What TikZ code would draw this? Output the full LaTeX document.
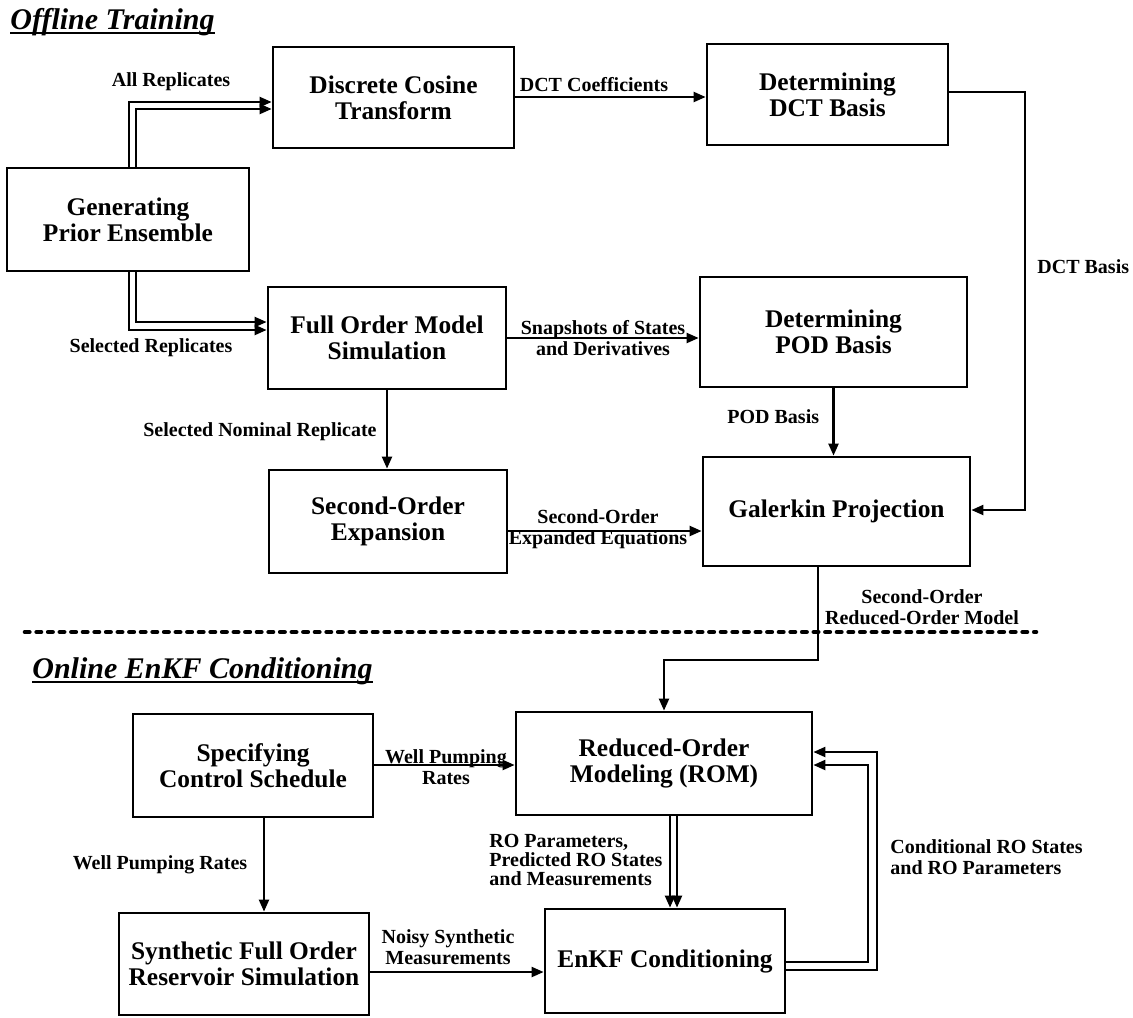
\documentclass[tikz,border=0pt]{standalone}
\usepackage{fontspec}
\setmainfont{Liberation Serif}
\usetikzlibrary{arrows.meta}
\begin{document}
\begin{tikzpicture}[x=0.5pt,y=-0.5pt,
  box/.style={draw, line width=1.4pt, inner sep=0pt, align=center,
    font=\bfseries\fontsize{12.7}{13}\selectfont},
  lbl/.style={inner sep=0pt, align=center,
    font=\bfseries\fontsize{10}{10.5}\selectfont},
  heading/.style={inner sep=0pt,
    font=\bfseries\itshape\fontsize{15}{18}\selectfont},
  arr/.style={line width=1.1pt, -{Triangle[length=6pt,width=5pt]}},
  conn/.style={line width=1.1pt},
  separator/.style={line width=2.3pt, line cap=round, dash pattern=on 2.2pt off 3.6pt}]
\useasboundingbox (0,0) rectangle (1133,1017);

% ---------- offline part ----------
\node[heading, anchor=base west] (toff) at (10,29) {Offline Training};
\draw[conn] ([yshift=-2pt]toff.base west) -- ([yshift=-2pt]toff.base east);

\node[box, minimum width=121pt,   minimum height=51.5pt] (gen)  at (128,219.5) {Generating\\Prior Ensemble};
\node[box, minimum width=120.5pt, minimum height=50.5pt] (dct)  at (393.5,97.5) {Discrete Cosine\\Transform};
\node[box, minimum width=120.5pt, minimum height=50.5pt] (dctb) at (827.5,94.5) {Determining\\DCT Basis};
\node[box, minimum width=119pt,   minimum height=51pt]   (fom)  at (387,338) {Full Order Model\\Simulation};
\node[box, minimum width=133.5pt, minimum height=55pt]   (pod)  at (833.5,332) {Determining\\POD Basis};
\node[box, minimum width=119pt,   minimum height=51.5pt] (soe)  at (388,521.5) {Second-Order\\Expansion};
\node[box, minimum width=133.5pt, minimum height=54.5pt] (gal)  at (836.5,511.5) {Galerkin Projection};

% double connectors from the ensemble
\draw[arr] (gen.north -| 129,0) |- (dct.west |- 0,102);
\draw[arr] (gen.north -| 136,0) |- (dct.west |- 0,109);
\draw[arr] (gen.south -| 129,0) |- (fom.west |- 0,330);
\draw[arr] (gen.south -| 136,0) |- (fom.west |- 0,322);
\node[lbl] (lall) at (171,82) {All Replicates};
\node[lbl] (lsel) at (151,348) {Selected Replicates};

\draw[arr] (dct.east |- 0,97) -- (dctb.west |- 0,97);
\node[lbl] (lcoef) at (594,85) {DCT Coefficients};

\draw[arr] (dctb.east |- 0,92) -| (1025,510) -- (gal.east |- 0,510);
\node[lbl, anchor=west] (ldctb) at (1037,267) {DCT Basis};

\draw[arr] (fom.east |- 0,338) -- (pod.west |- 0,338);
\node[lbl] (lsnap) at (603,338) {Snapshots of States\\and Derivatives};

\draw[arr] (fom.south -| 387,0) -- (soe.north -| 387,0);
\node[lbl, anchor=east] (lnom) at (377,432) {Selected Nominal Replicate};

\draw[arr] (pod.south) -- (gal.north -| pod.south);
\node[lbl, anchor=west] (lpod) at (727,417) {POD Basis};

\draw[arr] (soe.east |- 0,531) -- (gal.west |- 0,531);
\node[lbl] (lexp) at (598,529) {Second-Order\\Expanded Equations};

% ---------- separator ----------
\draw[separator] (25,632) -- (1036,632);

% ---------- online part ----------
\node[heading, anchor=base west] (ton) at (32,678) {Online EnKF Conditioning};
\draw[conn] ([yshift=-2pt]ton.base west) -- ([yshift=-2pt]ton.base east);

\node[box, minimum width=120pt, minimum height=51.5pt] (spec) at (253,765.5) {Specifying\\Control Schedule};
\node[box, minimum width=148pt, minimum height=51.5pt] (rom)  at (664,763.5) {Reduced-Order\\Modeling (ROM)};
\node[box, minimum width=125pt, minimum height=51pt]   (syn)  at (244,964) {Synthetic Full Order\\Reservoir Simulation};
\node[box, minimum width=120pt, minimum height=52pt]   (enkf) at (665,961) {EnKF Conditioning};

\draw[arr] (gal.south -| 818,0) -- (818,660) -| (rom.north);
\node[lbl] (lrom) at (922,607) {Second-Order\\Reduced-Order Model};

\draw[arr] (spec.east |- 0,765) -- (rom.west |- 0,765);
\node[lbl] (lwp1) at (446,767) {Well Pumping\\Rates};

\draw[arr] (spec.south -| 264,0) -- (syn.north -| 264,0);
\node[lbl] (lwp2) at (160,865) {Well Pumping Rates};

\draw[arr] (rom.south -| 670,0) -- (enkf.north -| 670,0);
\draw[arr] (rom.south -| 677,0) -- (enkf.north -| 677,0);
\node[lbl, anchor=west, align=left, font=\bfseries\fontsize{10}{9.5}\selectfont] (lpred) at (489,860)
  {RO Parameters,\\Predicted RO States\\and Measurements};

\draw[arr] (syn.east |- 0,972) -- (enkf.west |- 0,972);
\node[lbl] (lnoisy) at (448,947) {Noisy Synthetic\\Measurements};

\draw[arr] (enkf.east |- 0,962) -| (868,765) -- (rom.east |- 0,765);
\draw[arr] (enkf.east |- 0,970) -| (877,752) -- (rom.east |- 0,752);
\node[lbl, anchor=west, align=left] (lcond) at (890,857) {Conditional RO States\\and RO Parameters};
\end{tikzpicture}
\end{document}
